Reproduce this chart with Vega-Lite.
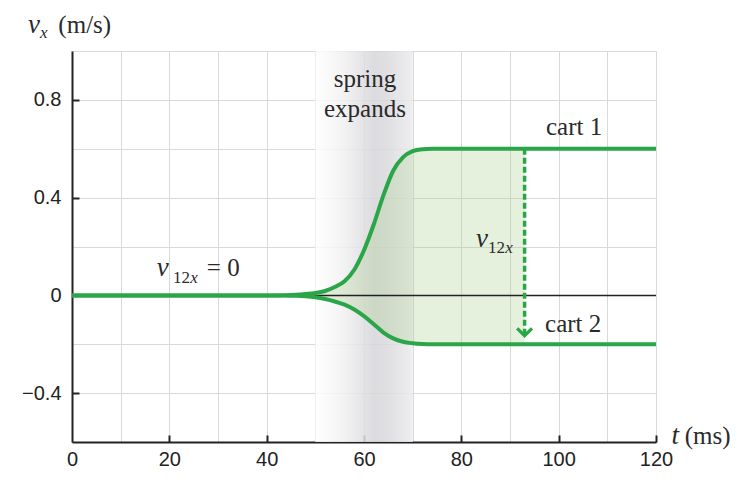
{
  "$schema": "https://vega.github.io/schema/vega-lite/v6.json",
  "width": 584,
  "height": 391,
  "autosize": {"type": "none"},
  "padding": {"left": 72, "top": 51, "right": 84, "bottom": 42},
  "background": "white",
  "config": {
    "view": {"stroke": null},
    "axis": {
      "gridColor": "#d9d9d9",
      "gridWidth": 1,
      "domainColor": "#222222",
      "domainWidth": 2,
      "tickColor": "#222222",
      "tickWidth": 2,
      "labelFont": "Liberation Sans",
      "labelFontSize": 20,
      "labelColor": "#222222",
      "title": null
    }
  },
  "datasets": {
    "curves": [
      {"t": 0, "cart1": 0, "cart2": 0},
      {"t": 40, "cart1": 0, "cart2": 0},
      {"t": 44, "cart1": 0.001, "cart2": -0.001},
      {"t": 46, "cart1": 0.003, "cart2": -0.002},
      {"t": 48, "cart1": 0.006, "cart2": -0.004},
      {"t": 50, "cart1": 0.01, "cart2": -0.008},
      {"t": 52, "cart1": 0.018, "cart2": -0.015},
      {"t": 54, "cart1": 0.034, "cart2": -0.025},
      {"t": 56, "cart1": 0.058, "cart2": -0.038},
      {"t": 58, "cart1": 0.105, "cart2": -0.058},
      {"t": 60, "cart1": 0.185, "cart2": -0.085},
      {"t": 62, "cart1": 0.29, "cart2": -0.118},
      {"t": 64, "cart1": 0.41, "cart2": -0.152},
      {"t": 66, "cart1": 0.51, "cart2": -0.176},
      {"t": 68, "cart1": 0.565, "cart2": -0.19},
      {"t": 70, "cart1": 0.59, "cart2": -0.196},
      {"t": 72, "cart1": 0.598, "cart2": -0.199},
      {"t": 74, "cart1": 0.6, "cart2": -0.2},
      {"t": 80, "cart1": 0.6, "cart2": -0.2},
      {"t": 93, "cart1": 0.6, "cart2": -0.2},
      {"t": 120, "cart1": 0.6, "cart2": -0.2}
    ],
    "band": [{"start": 50, "end": 70, "top": 1.0, "bottom": -0.6}],
    "zero": [{"v": 0}],
    "arrow": [{"t": 93, "from": 0.6, "to": -0.165}],
    "serifCenter": [
      {"t": 60.2, "v": 0.852, "text": "spring"},
      {"t": 60.2, "v": 0.73, "text": "expands"}
    ],
    "serifLeft": [
      {"t": 97.4, "v": 0.658, "text": "cart 1"},
      {"t": 97.2, "v": -0.15, "text": "cart 2"},
      {"t": 27.7, "v": 0.078, "text": "= 0"},
      {"t": -2.8, "v": 1.0725, "text": "(m/s)"},
      {"t": 125.9, "v": -0.608, "text": "(ms)"}
    ],
    "italic": [
      {"t": -9.04, "v": 1.0725, "text": "v"},
      {"t": 17.4, "v": 0.078, "text": "v"},
      {"t": 83.0, "v": 0.198, "text": "v"},
      {"t": 123.2, "v": -0.608, "text": "t"}
    ],
    "subRoman": [
      {"t": 20.75, "v": 0.05, "text": "12"},
      {"t": 85.5, "v": 0.172, "text": "12"}
    ],
    "subItalic": [
      {"t": -6.57, "v": 1.052, "text": "x"},
      {"t": 24.3, "v": 0.05, "text": "x"},
      {"t": 89.0, "v": 0.172, "text": "x"}
    ]
  },
  "encoding": {
    "x": {
      "field": "t", "type": "quantitative",
      "scale": {"domain": [0, 120], "nice": false, "zero": false}
    }
  },
  "layer": [
    {
      "data": {"name": "band"},
      "mark": {
        "type": "rect",
        "opacity": 0.85,
        "fill": {
          "gradient": "linear", "x1": 0, "y1": 0, "x2": 1, "y2": 0,
          "stops": [
            {"offset": 0, "color": "#ffffff"},
            {"offset": 0.3, "color": "#f0f0f1"},
            {"offset": 0.6, "color": "#d6d6da"},
            {"offset": 0.72, "color": "#d9d9dd"},
            {"offset": 1, "color": "#ebebee"}
          ]
        }
      },
      "encoding": {
        "x": {
          "field": "start", "type": "quantitative",
          "scale": {"domain": [0, 120], "nice": false, "zero": false},
          "axis": {
            "values": [0, 10, 20, 30, 40, 50, 60, 70, 80, 90, 100, 110, 120],
            "labelExpr": "datum.value % 20 == 0 ? datum.label : ''",
            "tickSize": -7,
            "labelPadding": 14,
            "labelFlush": false,
            "labelOverlap": false,
            "tickOpacity": {"condition": {"test": "datum.value % 20 == 0 && datum.value > 0", "value": 1}, "value": 0}
          }
        },
        "x2": {"field": "end"},
        "y": {
          "field": "top", "type": "quantitative",
          "scale": {"domain": [-0.6, 1.0], "nice": false, "zero": false},
          "axis": {
            "values": [-0.6, -0.4, -0.2, 0, 0.2, 0.4, 0.6, 0.8, 1.0],
            "labelExpr": "abs(round(datum.value * 10)) % 4 == 0 ? replace(format(datum.value, '.1~f'), '-', '\u2212') : ''",
            "tickSize": -7,
            "labelPadding": 18,
            "labelOverlap": false,
            "tickOpacity": {"condition": {"test": "abs(round(datum.value * 10)) % 4 == 0 && datum.value > -0.5", "value": 1}, "value": 0}
          }
        },
        "y2": {"field": "bottom"}
      }
    },
    {
      "data": {"name": "curves"},
      "transform": [{"filter": "datum.t <= 93"}],
      "mark": {"type": "area", "interpolate": "monotone", "color": "#a8d08a", "opacity": 0.3},
      "encoding": {
        "y": {"field": "cart1", "type": "quantitative"},
        "y2": {"field": "cart2"}
      }
    },
    {
      "data": {"name": "zero"},
      "mark": {"type": "rule", "color": "#222222", "strokeWidth": 1.5},
      "encoding": {"y": {"field": "v", "type": "quantitative"}, "x": {"value": 0}, "x2": {"value": 584}}
    },
    {
      "data": {"name": "arrow"},
      "mark": {"type": "rule", "color": "#2aa548", "strokeWidth": 3.5, "strokeDash": [6, 3]},
      "encoding": {
        "y": {"field": "from", "type": "quantitative"},
        "y2": {"field": "to"}
      }
    },
    {
      "data": {"name": "arrow"},
      "mark": {"type": "point", "shape": "M-1,-1L0,0L1,-1", "filled": false, "size": 220, "strokeWidth": 3.2, "color": "#2aa548", "opacity": 1},
      "encoding": {"y": {"field": "to", "type": "quantitative"}}
    },
    {
      "data": {"name": "curves"},
      "transform": [{"fold": ["cart1", "cart2"], "as": ["cart", "v"]}],
      "mark": {"type": "line", "interpolate": "monotone", "color": "#2aa548", "strokeWidth": 4},
      "encoding": {
        "y": {"field": "v", "type": "quantitative"},
        "detail": {"field": "cart"}
      }
    },
    {
      "data": {"name": "serifCenter"},
      "mark": {"type": "text", "font": "Liberation Serif", "fontSize": 25, "color": "#2a2a2a", "baseline": "alphabetic", "align": "center"},
      "encoding": {
        "y": {"field": "v", "type": "quantitative"},
        "text": {"field": "text"}
      }
    },
    {
      "data": {"name": "serifLeft"},
      "mark": {"type": "text", "font": "Liberation Serif", "fontSize": 25, "color": "#2a2a2a", "baseline": "alphabetic", "align": "left"},
      "encoding": {
        "y": {"field": "v", "type": "quantitative"},
        "text": {"field": "text"}
      }
    },
    {
      "data": {"name": "italic"},
      "mark": {"type": "text", "font": "Liberation Serif", "fontStyle": "italic", "fontSize": 27, "color": "#2a2a2a", "baseline": "alphabetic", "align": "left"},
      "encoding": {
        "y": {"field": "v", "type": "quantitative"},
        "text": {"field": "text"}
      }
    },
    {
      "data": {"name": "subRoman"},
      "mark": {"type": "text", "font": "Liberation Serif", "fontSize": 17, "color": "#2a2a2a", "baseline": "alphabetic", "align": "left"},
      "encoding": {
        "y": {"field": "v", "type": "quantitative"},
        "text": {"field": "text"}
      }
    },
    {
      "data": {"name": "subItalic"},
      "mark": {"type": "text", "font": "Liberation Serif", "fontStyle": "italic", "fontSize": 17, "color": "#2a2a2a", "baseline": "alphabetic", "align": "left"},
      "encoding": {
        "y": {"field": "v", "type": "quantitative"},
        "text": {"field": "text"}
      }
    }
  ]
}
